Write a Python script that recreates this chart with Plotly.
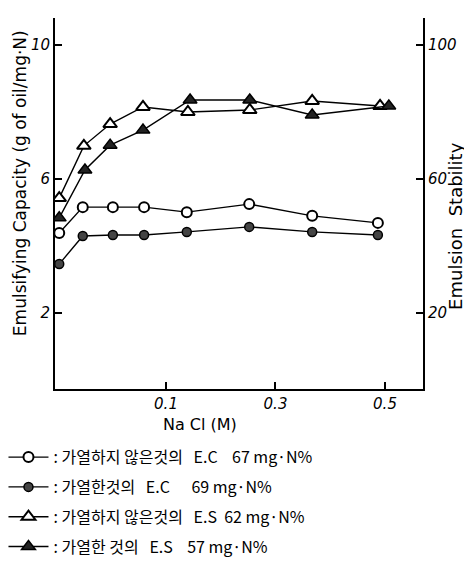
import plotly.graph_objects as go

# NaCl concentration (M)
x_circles = [-0.095, -0.052, 0.003, 0.060, 0.138, 0.252, 0.367, 0.487]
x_open_tri = [-0.095, -0.050, -0.002, 0.058, 0.140, 0.253, 0.367, 0.491]
x_fill_tri = [-0.095, -0.048, -0.002, 0.058, 0.144, 0.253, 0.367, 0.507]

# Emulsifying capacity (g of oil / mg N) - left axis
ec_unheated = [4.39, 5.16, 5.16, 5.16, 5.01, 5.25, 4.90, 4.69]
ec_heated = [3.46, 4.30, 4.33, 4.33, 4.42, 4.57, 4.42, 4.33]

# Emulsion stability - right axis
es_unheated = [54.3, 69.9, 76.4, 81.5, 80.0, 80.6, 83.3, 81.8]
es_heated = [48.4, 62.7, 70.1, 74.6, 83.6, 83.6, 79.1, 81.8]

S = "\u00a0"
names = [
    ":" + S + "가열하지" + S + "않은것의" + S * 3 + "E.C" + S * 4 + "67" + S + "mg·N%",
    ":" + S + "가열한것의" + S * 3 + "E.C" + S * 6 + "69" + S + "mg·N%",
    ":" + S + "가열하지" + S + "않은것의" + S * 3 + "E.S" + S * 2 + "62" + S + "mg·N%",
    ":" + S + "가열한" + S + "것의" + S * 3 + "E.S" + S * 4 + "57" + S + "mg·N%",
]

x_ticks = [0.1, 0.3, 0.5]
left_ticks = [2, 6, 10]
right_ticks = [20, 60, 100]

fig = go.Figure()
line = dict(color="black", width=1.4)
fig.add_trace(go.Scatter(x=x_circles, y=ec_unheated, mode="lines+markers", name=names[0],
                         line=line, legendgroup="a",
                         marker=dict(symbol="circle", size=10, color="white",
                                     line=dict(color="black", width=2))))
fig.add_trace(go.Scatter(x=x_circles, y=ec_heated, mode="lines+markers", name=names[1],
                         line=line, legendgroup="b",
                         marker=dict(symbol="circle", size=9, color="#444",
                                     line=dict(color="black", width=1.5))))
fig.add_trace(go.Scatter(x=x_open_tri, y=es_unheated, mode="lines+markers", name=names[2],
                         line=line, yaxis="y2", legendgroup="c",
                         marker=dict(symbol="triangle-up", size=12, color="white",
                                     line=dict(color="black", width=2))))
fig.add_trace(go.Scatter(x=x_fill_tri, y=es_heated, mode="lines+markers", name=names[3],
                         line=line, yaxis="y2", legendgroup="d",
                         marker=dict(symbol="triangle-up", size=12, color="#222",
                                     line=dict(color="black", width=1.5))))

tickfont = dict(family="DejaVu Sans", size=15, color="black", style="italic")
fig.update_layout(
    width=464, height=555,
    margin=dict(l=47, r=49, t=10, b=174, autoexpand=False),
    paper_bgcolor="white", plot_bgcolor="white",
    showlegend=True,
    legend=dict(x=-0.14, y=-0.138, xanchor="left", yanchor="top",
                font=dict(family="Noto Sans CJK KR", size=16, color="black"),
                tracegroupgap=6, bgcolor="rgba(0,0,0,0)", itemwidth=40),
    xaxis=dict(range=[-0.1027, 0.5694], tickvals=x_ticks, ticktext=["0.1", "0.3", "0.5"],
               showgrid=False, zeroline=False, showline=True, linecolor="black", linewidth=2,
               ticks="inside", ticklen=7, tickwidth=1.5, tickcolor="black", tickfont=tickfont),
    yaxis=dict(range=[-0.269, 10.806], tickvals=left_ticks, ticklabelstandoff=0,
               showgrid=False, zeroline=False, showline=True, linecolor="black", linewidth=2,
               ticks="inside", ticklen=7, tickwidth=1.5, tickcolor="black", tickfont=tickfont),
    yaxis2=dict(range=[-2.69, 108.06], tickvals=right_ticks, overlaying="y", side="right",
                ticklabelstandoff=0,
                showgrid=False, zeroline=False, showline=True, linecolor="black", linewidth=2,
                ticks="inside", ticklen=7, tickwidth=1.5, tickcolor="black", tickfont=tickfont),
    annotations=[
        dict(text="Na Cl (M)", xref="paper", yref="paper", x=0.394, y=-0.097,
             xanchor="center", yanchor="middle",
             showarrow=False, font=dict(family="DejaVu Sans", size=16, color="black")),
        dict(text="Emulsifying Capacity (g of oil/mg·N)", xref="paper", yref="paper",
             x=-0.095, y=0.555, xanchor="center", yanchor="middle", textangle=-90,
             showarrow=False, font=dict(family="DejaVu Sans", size=17, color="black")),
        dict(text="Emulsion  Stability", xref="paper", yref="paper",
             x=1.09, y=0.44, xanchor="center", yanchor="middle", textangle=-90,
             showarrow=False, font=dict(family="DejaVu Sans", size=18, color="black")),
    ],
)

fig.write_html("out.html")
